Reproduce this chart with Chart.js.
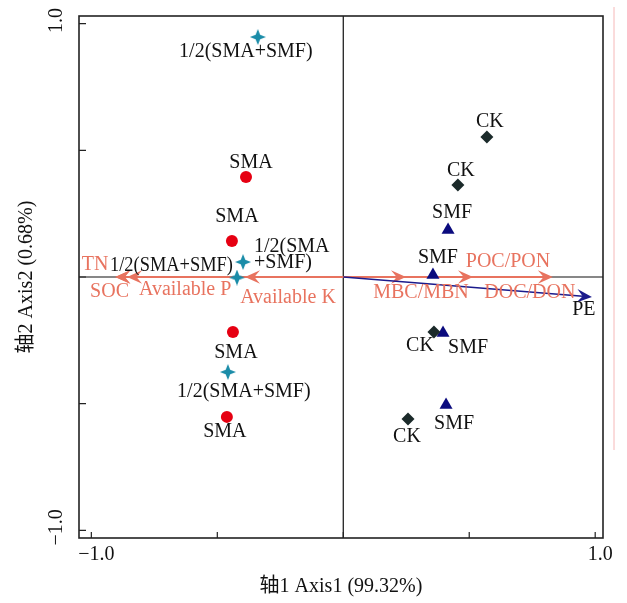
<!DOCTYPE html>
<html>
<head>
<meta charset="utf-8">
<script src="https://cdn.jsdelivr.net/npm/chart.js@4/dist/chart.umd.min.js"></script>
<style>
  html, body { margin: 0; padding: 0; background: #fff; }
</style>
</head>
<body>
<canvas id="rda" width="627" height="603"></canvas>
<script>
  // sample scores on RDA axis 1 / axis 2
  const smaX = [-0.386, -0.442, -0.438, -0.462];
  const smaY = [0.395, 0.142, -0.217, -0.552];
  const halfX = [-0.339, -0.398, -0.422, -0.458];
  const halfY = [0.947, 0.059, -0.002, -0.375];
  const ckX = [0.570, 0.455, 0.360, 0.257];
  const ckY = [0.552, 0.363, -0.217, -0.560];
  const smfX = [0.416, 0.356, 0.396, 0.408];
  const smfY = [0.185, 0.008, -0.221, -0.505];

  // point labels
  const halfLabels = ['1/2(SMA+SMF)', ['1/2(SMA', '+SMF)'], '1/2(SMA+SMF)', '1/2(SMA+SMF)'];

  // soil properties (red arrows) and PE (blue arrow)
  const envNames = ['TN', 'SOC', 'Available P', 'Available K', 'MBC/MBN', 'POC/PON', 'DOC/DON'];
  const envX = [-0.906, -0.904, -0.858, -0.390, 0.249, 0.515, 0.832];
  const envY = [0, 0, 0, 0, 0, 0, 0];
  const peNames = ['PE'];
  const peX = [0.987];
  const peY = [-0.079];

  // axes
  const xTicks = [-1, -0.5, 0, 0.5, 1];
  const yTicks = [-1, -0.5, 0, 0.5, 1];
  const xTickLabels = ['\u22121.0', '', '', '', '1.0'];
  const yTickLabels = ['\u22121.0', '', '', '', '1.0'];

  const FONT = '"Liberation Serif", "Noto Sans CJK SC", serif';
  const ENV_COLOR = '#E8735F';
  const PE_COLOR = '#1B1B8C';

  // label placement, pixels from the point (or arrow tip)
  const smaShift = [[5, -14], [5, -24], [3, 21], [-2, 15]];
  const halfShift = [[-12, 15], [11, -15, 'left'], [-4, -12, 'right', 123], [16, 20]];
  const ckShift = [[3, -15], [3, -14], [-14, 14], [-1, 18]];
  const smfShift = [[4, -17], [5, -17], [25, 15], [8, 19]];
  const envShift = [[-20, -12], [-6, 15], [58, 13], [43, 21], [15, 16], [35, -15], [-23, 16]];
  const peShift = [[-8, 13]];

  function pts(xs, ys) {
    return xs.map((v, i) => ({ x: v, y: ys[i] }));
  }

  function starImage(r, color) {
    const c = document.createElement('canvas');
    c.width = c.height = r * 2;
    const g = c.getContext('2d');
    g.fillStyle = color;
    g.beginPath();
    for (let k = 0; k < 8; k++) {
      const ang = k * Math.PI / 4 - Math.PI / 2;
      const rr = k % 2 ? r * 0.4 : r;
      g.lineTo(r + Math.cos(ang) * rr, r + Math.sin(ang) * rr);
    }
    g.closePath();
    g.fill();
    return c;
  }

  function drawArrow(ctx, x1, y1, x2, y2, color, width, head) {
    const ang = Math.atan2(y2 - y1, x2 - x1);
    ctx.strokeStyle = color;
    ctx.fillStyle = color;
    ctx.lineWidth = width;
    ctx.beginPath();
    ctx.moveTo(x1, y1);
    ctx.lineTo(x2 - Math.cos(ang) * head * 0.6, y2 - Math.sin(ang) * head * 0.6);
    ctx.stroke();
    ctx.save();
    ctx.translate(x2, y2);
    ctx.rotate(ang);
    ctx.beginPath();
    ctx.moveTo(0, 0);
    ctx.lineTo(-head, -head * 0.45);
    ctx.lineTo(-head * 0.62, 0);
    ctx.lineTo(-head, head * 0.45);
    ctx.closePath();
    ctx.fill();
    ctx.restore();
  }

  function putText(ctx, text, x, y, shift) {
    const [dx, dy, align, fit] = shift;
    ctx.textAlign = align || 'center';
    const lines = Array.isArray(text) ? text : [text];
    lines.forEach((t, k) => {
      if (fit) ctx.fillText(t, x + dx, y + dy + k * 16, fit);
      else ctx.fillText(t, x + dx, y + dy + k * 16);
    });
  }

  const biplot = {
    id: 'biplot',
    beforeDatasetsDraw(chart) {
      const { ctx, chartArea: a, scales: { x, y } } = chart;
      const x0 = x.getPixelForValue(0);
      const y0 = y.getPixelForValue(0);
      ctx.save();
      ctx.strokeStyle = '#111';
      ctx.lineWidth = 1.2;
      ctx.beginPath();
      ctx.moveTo(a.left, y0);
      ctx.lineTo(a.right, y0);
      ctx.moveTo(x0, a.top);
      ctx.lineTo(x0, a.bottom);
      ctx.stroke();
      envNames.forEach((n, i) => {
        drawArrow(ctx, x0, y0, x.getPixelForValue(envX[i]), y.getPixelForValue(envY[i]), ENV_COLOR, 2, 15);
      });
      peNames.forEach((n, i) => {
        drawArrow(ctx, x0, y0, x.getPixelForValue(peX[i]), y.getPixelForValue(peY[i]), PE_COLOR, 1.6, 15);
      });
      ctx.restore();
    },
    afterDatasetsDraw(chart) {
      const { ctx, scales: { x, y } } = chart;
      ctx.save();
      ctx.font = '20px ' + FONT;
      ctx.textBaseline = 'middle';
      ctx.fillStyle = '#111';
      const groups = [
        [smaShift, () => 'SMA'],
        [halfShift, (j) => halfLabels[j]],
        [ckShift, () => 'CK'],
        [smfShift, () => 'SMF'],
      ];
      groups.forEach(([shift, txt], i) => {
        chart.getDatasetMeta(i).data.forEach((p, j) => putText(ctx, txt(j), p.x, p.y, shift[j]));
      });
      ctx.fillStyle = ENV_COLOR;
      envNames.forEach((n, i) => {
        putText(ctx, n, x.getPixelForValue(envX[i]), y.getPixelForValue(envY[i]), envShift[i]);
      });
      ctx.fillStyle = '#111';
      peNames.forEach((n, i) => {
        putText(ctx, n, x.getPixelForValue(peX[i]), y.getPixelForValue(peY[i]), peShift[i]);
      });
      ctx.restore();
    },
    afterDraw(chart) {
      const { ctx, chartArea: a, scales: { x, y } } = chart;
      ctx.save();
      // frame
      ctx.strokeStyle = '#222';
      ctx.lineWidth = 1.6;
      ctx.strokeRect(a.left, a.top, a.right - a.left, a.bottom - a.top);
      // inward tick marks
      ctx.lineWidth = 1.2;
      ctx.beginPath();
      xTicks.forEach((v) => {
        const px = x.getPixelForValue(v);
        ctx.moveTo(px, a.bottom);
        ctx.lineTo(px, a.bottom - 6);
      });
      yTicks.forEach((v) => {
        const py = y.getPixelForValue(v);
        ctx.moveTo(a.left, py);
        ctx.lineTo(a.left + 7, py);
      });
      ctx.stroke();
      // rotated y tick labels
      ctx.fillStyle = '#111';
      ctx.font = '20px ' + FONT;
      ctx.textAlign = 'center';
      ctx.textBaseline = 'middle';
      yTicks.forEach((v, i) => {
        if (!yTickLabels[i]) return;
        ctx.save();
        ctx.translate(57, y.getPixelForValue(v) - 3);
        ctx.rotate(-Math.PI / 2);
        ctx.fillText(yTickLabels[i], 0, 0);
        ctx.restore();
      });
      // faint rule at the right edge of the figure
      ctx.strokeStyle = '#F6B8B8';
      ctx.lineWidth = 1;
      ctx.beginPath();
      ctx.moveTo(a.right + 11, 7);
      ctx.lineTo(a.right + 11, 450);
      ctx.stroke();
      ctx.restore();
    },
  };

  new Chart(document.getElementById('rda'), {
    type: 'scatter',
    data: {
      datasets: [
        { label: 'SMA', data: pts(smaX, smaY), pointStyle: 'circle', pointRadius: 6,
          backgroundColor: '#E60012', borderColor: '#E60012', borderWidth: 0 },
        { label: '1/2(SMA+SMF)', data: pts(halfX, halfY), pointStyle: starImage(8, '#1A8CA8'), pointRadius: 8 },
        { label: 'CK', data: pts(ckX, ckY), pointStyle: 'rectRot', pointRadius: 6.5,
          backgroundColor: '#1B2A2A', borderColor: '#1B2A2A', borderWidth: 0 },
        { label: 'SMF', data: pts(smfX, smfY), pointStyle: 'triangle', pointRadius: 7.5,
          backgroundColor: '#0B0B7E', borderColor: '#0B0B7E', borderWidth: 0 },
      ],
    },
    options: {
      responsive: false,
      animation: false,
      events: [],
      layout: { padding: { top: 16, right: 24, left: 0, bottom: 0 } },
      plugins: { legend: { display: false }, tooltip: { enabled: false } },
      scales: {
        x: {
          type: 'linear',
          min: -1.049,
          max: 1.031,
          afterFit: (s) => { s.height = 65; },
          grid: { display: false, drawTicks: false },
          border: { display: false },
          ticks: {
            stepSize: 0.5,
            includeBounds: false,
            padding: 5,
            labelOffset: 5,
            color: '#111',
            font: { family: FONT, size: 20 },
            callback: (v) => {
              const i = xTicks.indexOf(v);
              return i >= 0 ? xTickLabels[i] : '';
            },
          },
          title: {
            display: true,
            text: '轴1 Axis1 (99.32%)',
            color: '#111',
            font: { family: FONT, size: 20 },
            padding: { top: 0, bottom: 4 },
          },
        },
        y: {
          type: 'linear',
          min: -1.03,
          max: 1.03,
          afterFit: (s) => { s.width = 79; },
          grid: { display: false, drawTicks: false },
          border: { display: false },
          ticks: { display: false },
          title: {
            display: true,
            text: '轴2 Axis2 (0.68%)',
            color: '#111',
            font: { family: FONT, size: 20 },
            padding: { top: 15, bottom: 0 },
          },
        },
      },
    },
    plugins: [biplot],
  });
</script>
</body>
</html>
